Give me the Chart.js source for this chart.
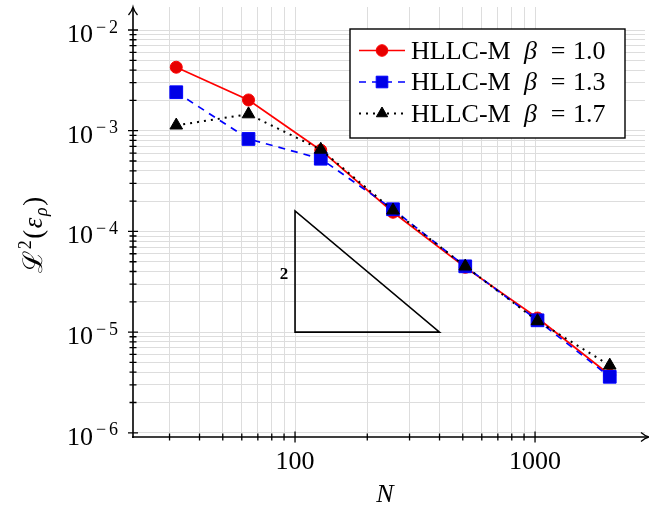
<!DOCTYPE html>
<html>
<head>
<meta charset="utf-8">
<script src="https://cdn.jsdelivr.net/npm/chart.js@4.4.0/dist/chart.umd.min.js"></script>
<style>
html, body { margin: 0; padding: 0; background: #fff; }
</style>
</head>
<body>
<canvas id="myChart" width="649" height="514"></canvas>
<script>
// grid resolutions and the L2 density error for each beta
let N = [32, 64, 128, 256, 512, 1024, 2048];
let errBeta10 = [4.27e-3, 2.02e-3, 6.4e-4, 1.55e-4, 4.4e-5, 1.38e-5, 3.75e-6];
let errBeta13 = [2.41e-3, 8.28e-4, 5.27e-4, 1.66e-4, 4.5e-5, 1.31e-5, 3.6e-6];
let errBeta17 = [1.13e-3, 1.46e-3, 6.5e-4, 1.62e-4, 4.5e-5, 1.29e-5, 4.67e-6];
let betas = ['1.0', '1.3', '1.7'];

// ticks (minor ones also carry the grid)
let xTicks = [30, 40, 50, 60, 70, 80, 90, 100, 200, 300, 400, 500, 600, 700, 800, 900, 1000];
let xLabels = [100, 1000];
let yExp = [-6, -5, -4, -3, -2];

// slope triangle, order 2
let triX = [100, 100, 400];
let triY = [1.6e-4, 1e-5, 1e-5];
let triLabel = '2';

let yTicks = [];
yExp.forEach(e => {
  let top = e === -2 ? 1 : 9;
  for (let m = 1; m <= top; m++) yTicks.push(m * Math.pow(10, e));
});

const serif = '"Liberation Serif", "DejaVu Serif", serif';
let ctx = document.getElementById('myChart').getContext('2d');

function pts(vals) {
  return N.map((n, i) => ({ x: n, y: vals[i] }));
}

function marker(c, style, x, y, r, fill, stroke) {
  c.save();
  c.setLineDash([]);
  c.fillStyle = fill;
  c.strokeStyle = stroke;
  c.lineWidth = 1;
  c.beginPath();
  if (style === 'circle') {
    c.arc(x, y, r, 0, Math.PI * 2);
  } else if (style === 'rect') {
    c.rect(x - r, y - r, 2 * r, 2 * r);
  } else {
    c.moveTo(x, y - r);
    c.lineTo(x + r * 0.866, y + r / 2);
    c.lineTo(x - r * 0.866, y + r / 2);
    c.closePath();
  }
  c.fill();
  c.stroke();
  c.restore();
}

const deco = {
  id: 'deco',
  afterDraw(chart) {
    const c = chart.ctx;
    const a = chart.chartArea;
    const x = chart.scales.x, y = chart.scales.y;
    c.save();
    c.strokeStyle = '#000';
    c.fillStyle = '#000';
    c.lineWidth = 1.6;
    c.lineCap = 'butt';

    // axis lines with arrows
    c.beginPath();
    c.moveTo(a.left, a.bottom + 1);
    c.lineTo(a.left, 8);
    c.moveTo(a.left - 1, a.bottom);
    c.lineTo(647, a.bottom);
    c.stroke();
    c.lineWidth = 1.3;
    c.beginPath();
    c.moveTo(a.left - 4.5, 15);
    c.quadraticCurveTo(a.left - 1, 11, a.left, 7);
    c.quadraticCurveTo(a.left + 1, 11, a.left + 4.5, 15);
    c.moveTo(641, a.bottom - 4.5);
    c.quadraticCurveTo(645, a.bottom - 1, 649, a.bottom);
    c.quadraticCurveTo(645, a.bottom + 1, 641, a.bottom + 4.5);
    c.stroke();

    // tick marks
    c.lineWidth = 1.3;
    c.beginPath();
    yTicks.forEach(v => {
      const py = y.getPixelForValue(v);
      const major = Math.abs(Math.log10(v) - Math.round(Math.log10(v))) < 1e-9;
      const h = major ? 5 : 3.5;
      c.moveTo(a.left - h, py);
      c.lineTo(a.left + h, py);
    });
    xTicks.forEach(v => {
      const px = x.getPixelForValue(v);
      const major = xLabels.includes(v);
      const h = major ? 5.5 : 3.5;
      c.moveTo(px, a.bottom - h);
      c.lineTo(px, a.bottom + h);
    });
    c.stroke();

    // tick labels: 10 with a raised minus and exponent
    c.textBaseline = 'alphabetic';
    yExp.forEach(e => {
      const py = y.getPixelForValue(Math.pow(10, e));
      c.font = '18px ' + serif;
      c.textAlign = 'right';
      c.fillText(String(Math.abs(e)), 118, py + 2.5);
      c.textAlign = 'center';
      c.fillText('\u2212', 101, py + 2.5);
      c.font = '26px ' + serif;
      c.textAlign = 'right';
      c.fillText('10', 93, py + 12);
    });
    c.font = '26px ' + serif;
    c.textAlign = 'center';
    xLabels.forEach(v => {
      c.fillText(String(v), x.getPixelForValue(v), a.bottom + 32);
    });

    // axis titles
    c.font = 'italic 26px ' + serif;
    c.fillText('N', 385, 502);

    c.save();
    c.translate(42, 234);
    c.rotate(-Math.PI / 2);
    const parts = [
      ['\u2112', '27px ' + serif, 0],
      ['2', '18px ' + serif, -11],
      ['(', '27px ' + serif, 0],
      ['\u03B5', 'italic 27px ' + serif, 0],
      ['\u03C1', 'italic 18px ' + serif, 5],
      [')', '27px ' + serif, 0]
    ];
    let tw = 0;
    parts.forEach(p => { c.font = p[1]; tw += c.measureText(p[0]).width + 1.5; });
    let cx = -tw / 2;
    c.textAlign = 'left';
    parts.forEach(p => {
      c.font = p[1];
      c.fillText(p[0], cx, p[2]);
      cx += c.measureText(p[0]).width + 1.5;
    });
    c.restore();

    // slope triangle
    c.lineWidth = 1.6;
    c.beginPath();
    triX.forEach((v, i) => {
      const px = x.getPixelForValue(v), py = y.getPixelForValue(triY[i]);
      if (i === 0) c.moveTo(px, py); else c.lineTo(px, py);
    });
    c.closePath();
    c.stroke();
    c.font = 'bold 17px ' + serif;
    c.textAlign = 'center';
    const ly = (y.getPixelForValue(triY[0]) + y.getPixelForValue(triY[1])) / 2;
    c.fillText(triLabel, x.getPixelForValue(triX[0]) - 11, ly + 8);

    // legend
    const box = { l: 350, t: 29, r: 625, b: 138 };
    c.fillStyle = '#fff';
    c.fillRect(box.l, box.t, box.r - box.l, box.b - box.t);
    c.strokeStyle = '#000';
    c.lineWidth = 1.4;
    c.strokeRect(box.l, box.t, box.r - box.l, box.b - box.t);
    chart.data.datasets.forEach((ds, i) => {
      const cy = 50.5 + 31.5 * i;
      c.save();
      c.strokeStyle = ds.borderColor;
      c.lineWidth = ds.borderWidth;
      c.setLineDash(ds.borderDash || []);
      c.beginPath();
      c.moveTo(359, cy);
      c.lineTo(405, cy);
      c.stroke();
      c.restore();
      const r = ds.pointStyle === 'triangle' ? 6.5 : 5.8;
      marker(c, ds.pointStyle, 382, cy, r, ds.pointBackgroundColor, ds.pointBorderColor);
      c.fillStyle = '#000';
      c.textAlign = 'left';
      c.font = '26px ' + serif;
      c.fillText('HLLC-M', 411, cy + 8);
      c.font = 'italic 26px ' + serif;
      c.fillText('\u03B2', 524, cy + 8);
      c.font = '26px ' + serif;
      c.textAlign = 'center';
      c.fillText('=', 558, cy + 8);
      c.textAlign = 'left';
      c.fillText(betas[i], 573, cy + 8);
    });
    c.restore();
  }
};

const gridColor = '#dddddd';

let myChart = new Chart(ctx, {
  type: 'line',
  data: {
    datasets: [
      {
        label: 'HLLC-M \u03B2 = ' + betas[0],
        data: pts(errBeta10),
        borderColor: '#ff0000',
        borderWidth: 1.7,
        pointStyle: 'circle',
        pointRadius: 6,
        pointBackgroundColor: '#e60000',
        pointBorderColor: '#ff0000',
        pointBorderWidth: 1,
        order: 3
      },
      {
        label: 'HLLC-M \u03B2 = ' + betas[1],
        data: pts(errBeta13),
        borderColor: '#0000ff',
        borderWidth: 1.7,
        borderDash: [7, 6],
        pointStyle: 'rect',
        pointRadius: 9,
        pointBackgroundColor: '#0000e6',
        pointBorderColor: '#0000ff',
        pointBorderWidth: 1,
        order: 2
      },
      {
        label: 'HLLC-M \u03B2 = ' + betas[2],
        data: pts(errBeta17),
        borderColor: '#000000',
        borderWidth: 2,
        borderDash: [2, 5],
        pointStyle: 'triangle',
        pointRadius: 7.3,
        pointBackgroundColor: '#000000',
        pointBorderColor: '#000000',
        pointBorderWidth: 1,
        order: 1
      }
    ]
  },
  options: {
    responsive: false,
    animation: false,
    layout: { autoPadding: false, padding: { left: 133, right: 4, top: 7, bottom: 77 } },
    plugins: {
      legend: { display: false },
      tooltip: { enabled: false }
    },
    elements: { line: { tension: 0, fill: false } },
    scales: {
      x: {
        type: 'logarithmic',
        min: 21.13,
        max: 2872,
        bounds: 'data',
        border: { display: false },
        grid: { color: gridColor, lineWidth: 1, drawTicks: false },
        ticks: { display: false },
        afterBuildTicks: s => { s.ticks = xTicks.map(v => ({ value: v })); }
      },
      y: {
        type: 'logarithmic',
        min: 9.09e-7,
        max: 0.01692,
        bounds: 'data',
        border: { display: false },
        grid: { color: gridColor, lineWidth: 1, drawTicks: false },
        ticks: { display: false },
        afterBuildTicks: s => { s.ticks = yTicks.map(v => ({ value: v })); }
      }
    }
  },
  plugins: [deco]
});
</script>
</body>
</html>
